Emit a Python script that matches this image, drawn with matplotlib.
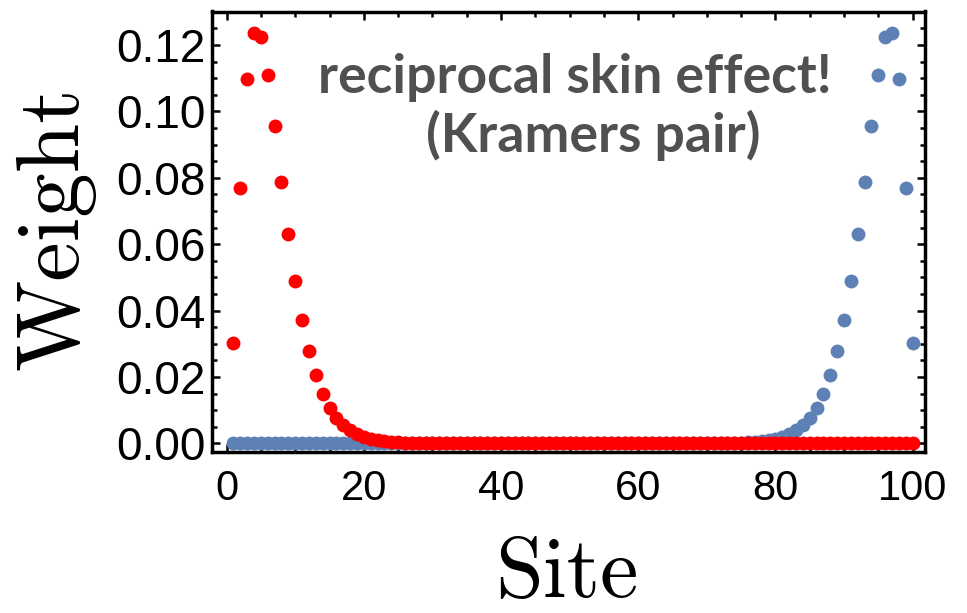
import matplotlib
matplotlib.use("Agg")
import matplotlib.pyplot as plt
from matplotlib.ticker import MultipleLocator, FormatStrFormatter

# Lattice sites 1..100
sites = list(range(1, 101))

# Weight of the left-localized partner (red)
weight_left = [
    0.0303, 0.0770, 0.1098, 0.1236, 0.1224, 0.1111, 0.0956, 0.0787, 0.0630, 0.0489,
    0.0371, 0.0279, 0.0206, 0.0150, 0.0106, 0.0076, 0.0055, 0.0040, 0.0029, 0.0020,
    0.0014, 0.0010, 0.0007, 0.0005, 0.00035, 0.00025, 0.00017, 0.00012, 0.00008, 0.00006,
    0.00004, 0.00003, 0.00002, 0.00001, 0.0, 0.0, 0.0, 0.0, 0.0, 0.0,
    0.0, 0.0, 0.0, 0.0, 0.0, 0.0, 0.0, 0.0, 0.0, 0.0,
    0.0, 0.0, 0.0, 0.0, 0.0, 0.0, 0.0, 0.0, 0.0, 0.0,
    0.0, 0.0, 0.0, 0.0, 0.0, 0.0, 0.0, 0.0, 0.0, 0.0,
    0.0, 0.0, 0.0, 0.0, 0.0, 0.0, 0.0, 0.0, 0.0, 0.0,
    0.0, 0.0, 0.0, 0.0, 0.0, 0.0, 0.0, 0.0, 0.0, 0.0,
    0.0, 0.0, 0.0, 0.0, 0.0, 0.0, 0.0, 0.0, 0.0, 0.0,
]

# Weight of the right-localized partner (blue)
weight_right = [
    0.0, 0.0, 0.0, 0.0, 0.0, 0.0, 0.0, 0.0, 0.0, 0.0,
    0.0, 0.0, 0.0, 0.0, 0.0, 0.0, 0.0, 0.0, 0.0, 0.0,
    0.0, 0.0, 0.0, 0.0, 0.0, 0.0, 0.0, 0.0, 0.0, 0.0,
    0.0, 0.0, 0.0, 0.0, 0.0, 0.0, 0.0, 0.0, 0.0, 0.0,
    0.0, 0.0, 0.0, 0.0, 0.0, 0.0, 0.0, 0.0, 0.0, 0.0,
    0.0, 0.0, 0.0, 0.0, 0.0, 0.0, 0.0, 0.0, 0.0, 0.0,
    0.0, 0.0, 0.0, 0.0, 0.0, 0.0, 0.00001, 0.00002, 0.00003, 0.00004,
    0.00006, 0.00008, 0.00012, 0.00017, 0.00025, 0.00035, 0.0005, 0.0007, 0.0010, 0.0014,
    0.0020, 0.0029, 0.0040, 0.0055, 0.0076, 0.0106, 0.0150, 0.0206, 0.0279, 0.0371,
    0.0489, 0.0630, 0.0787, 0.0956, 0.1111, 0.1224, 0.1236, 0.1098, 0.0770, 0.0303,
]

x_ticks = [0, 20, 40, 60, 80, 100]
y_ticks = [0.00, 0.02, 0.04, 0.06, 0.08, 0.10, 0.12]

W, H = 967, 613

fig = plt.figure(figsize=(W / 100, H / 100), dpi=100)
ax = fig.add_axes([211.5 / W, 1 - 452 / H, (925 - 211.5) / W, (452 - 11.5) / H])

blue = (0.368, 0.507, 0.710)
red = (1.0, 0.0, 0.0)
ax.plot(sites, weight_right, "o", ls="none", ms=10, mew=0, color=blue)
ax.plot(sites, weight_left, "o", ls="none", ms=10, mew=0, color=red)

ax.set_xlim(-2.2, 101.8)
ax.set_ylim(-0.0026, 0.1301)

ax.set_xticks(x_ticks)
ax.set_yticks(y_ticks)
ax.xaxis.set_minor_locator(MultipleLocator(5))
ax.yaxis.set_minor_locator(MultipleLocator(0.005))
ax.yaxis.set_major_formatter(FormatStrFormatter("%.2f"))

for s in ax.spines.values():
    s.set_linewidth(2.5)
    s.set_color("black")

ax.tick_params(which="both", direction="in", top=True, right=True, width=1.8, color="black")
ax.tick_params(which="major", length=6)
ax.tick_params(which="minor", length=3.5)
ax.tick_params(axis="y", which="major", pad=4, labelsize=33)
ax.tick_params(axis="x", which="major", pad=12, labelsize=30)
for lab in ax.get_xticklabels() + ax.get_yticklabels():
    lab.set_fontfamily("Liberation Sans")

# Axis titles in Computer Modern Roman
fig.text(566.7 / W, 16 / H, "Site", family="cmr10", fontsize=62,
         ha="center", va="baseline")
fig.text(55 / W, 1 - 228.5 / H, "Weight", family="cmr10", fontsize=64, rotation=90,
         ha="center", va="center")

# Annotation
note_color = "#505050"
fig.text(574.5 / W, 1 - 93 / H, "reciprocal skin effect!", fontsize=38.5, fontweight="bold",
         family="Lato", color=note_color, ha="center", va="baseline")
fig.text(593 / W, 1 - 152 / H, "(Kramers pair)", fontsize=38.5, fontweight="bold",
         family="Lato", color=note_color, ha="center", va="baseline")

fig.savefig("out.png", dpi=100)
